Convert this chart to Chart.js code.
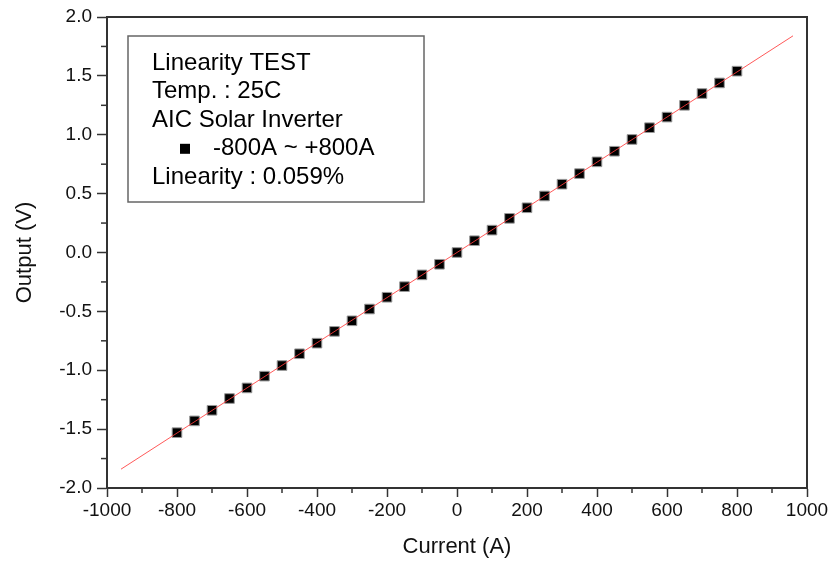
<!DOCTYPE html>
<html>
<head>
<meta charset="utf-8">
<script src="https://cdn.jsdelivr.net/npm/chart.js@4"></script>
<style>
  body { margin: 0; background: #fff; }
  #wrap { width: 835px; height: 565px; }
</style>
</head>
<body>
<div id="wrap"><canvas id="linChart"></canvas></div>
<script>
/* measured points: current (A) vs sensor output (V) */
const currentA = [-800, -750, -700, -650, -600, -550, -500, -450, -400, -350, -300, -250, -200, -150, -100, -50,
  0, 50, 100, 150, 200, 250, 300, 350, 400, 450, 500, 550, 600, 650, 700, 750, 800];
const outputV = [-1.53, -1.43, -1.34, -1.24, -1.15, -1.05, -0.96, -0.86, -0.77, -0.67, -0.58, -0.48, -0.38, -0.29, -0.19, -0.10,
  0.00, 0.10, 0.19, 0.29, 0.38, 0.48, 0.58, 0.67, 0.77, 0.86, 0.96, 1.06, 1.15, 1.25, 1.35, 1.44, 1.54];

/* linear fit line endpoints */
const fitX = [-960, 960];
const fitY = [-1.84, 1.84];

const legendHead = ['Linearity TEST', 'Temp. : 25C', 'AIC Solar Inverter'];
const legendSeries = '-800A ~ +800A';
const legendFoot = 'Linearity : 0.059%';

const FONT = '"Liberation Sans", Arial, sans-serif';

// box frame, minor ticks and the text box inside the plot
const framePlugin = {
  id: 'frame',
  afterDraw(chart) {
    const { ctx, chartArea: a, scales } = chart;
    ctx.save();
    ctx.strokeStyle = '#333';
    ctx.lineWidth = 2;
    ctx.beginPath();
    ctx.moveTo(a.left, a.top);
    ctx.lineTo(a.right, a.top);
    ctx.lineTo(a.right, a.bottom);
    ctx.stroke();

    // minor ticks halfway between majors
    ctx.lineWidth = 1.5;
    const xt = scales.x.ticks;
    for (let i = 0; i < xt.length - 1; i++) {
      const px = scales.x.getPixelForValue((xt[i].value + xt[i + 1].value) / 2);
      ctx.beginPath();
      ctx.moveTo(px, a.bottom);
      ctx.lineTo(px, a.bottom + 5);
      ctx.stroke();
    }
    const yt = scales.y.ticks;
    for (let i = 0; i < yt.length - 1; i++) {
      const py = scales.y.getPixelForValue((yt[i].value + yt[i + 1].value) / 2);
      ctx.beginPath();
      ctx.moveTo(a.left - 6, py);
      ctx.lineTo(a.left, py);
      ctx.stroke();
    }

    // text box
    const bx = a.left + 21, by = a.top + 19, bw = 296, bh = 166;
    ctx.strokeStyle = '#666';
    ctx.lineWidth = 1.5;
    ctx.fillStyle = '#fff';
    ctx.fillRect(bx, by, bw, bh);
    ctx.strokeRect(bx, by, bw, bh);

    ctx.fillStyle = '#000';
    ctx.font = '24px ' + FONT;
    ctx.textBaseline = 'middle';
    const tx = bx + 24;
    const lh = 28.6;
    let ty = by + 27;
    legendHead.forEach(t => { ctx.fillText(t, tx, ty); ty += lh; });
    ctx.fillRect(tx + 28, ty - 5, 10, 10);
    ctx.fillText(legendSeries, tx + 61, ty);
    ty += lh;
    ctx.fillText(legendFoot, tx, ty);
    ctx.restore();
  }
};

new Chart(document.getElementById('linChart'), {
  type: 'scatter',
  data: {
    datasets: [
      {
        label: 'fit',
        data: fitX.map((x, i) => ({ x, y: fitY[i] })),
        showLine: true,
        borderColor: 'rgba(255,60,60,0.85)',
        borderWidth: 1,
        pointRadius: 0
      },
      {
        label: 'measured',
        data: currentA.map((x, i) => ({ x, y: outputV[i] })),
        pointStyle: 'rect',
        pointRadius: 6.8,
        backgroundColor: '#000',
        borderColor: '#999',
        borderWidth: 1
      }
    ]
  },
  options: {
    responsive: true,
    maintainAspectRatio: false,
    animation: false,
    layout: { padding: { top: 17, right: 28, left: 0, bottom: 0 } },
    plugins: { legend: { display: false }, tooltip: { enabled: false } },
    scales: {
      x: {
        type: 'linear',
        min: -1000, max: 1000,
        afterFit(s) { s.height = 77; },
        ticks: { stepSize: 200, color: '#111', font: { family: FONT, size: 19 }, padding: 2, maxRotation: 0, callback: v => String(v) },
        grid: { drawOnChartArea: false, tickLength: 9, tickColor: '#333', tickWidth: 1.5 },
        border: { color: '#333', width: 2 },
        title: { display: true, text: 'Current (A)', color: '#111', font: { family: FONT, size: 22 }, padding: { top: 0, bottom: 5 } }
      },
      y: {
        min: -2, max: 2,
        afterFit(s) { s.width = 107; },
        ticks: { stepSize: 0.5, color: '#111', font: { family: FONT, size: 19 }, padding: 5, callback: v => v.toFixed(1) },
        grid: { drawOnChartArea: false, tickLength: 10, tickColor: '#333', tickWidth: 1.5 },
        border: { color: '#333', width: 2 },
        title: { display: true, text: 'Output (V)', color: '#111', font: { family: FONT, size: 22 }, padding: { top: 12, bottom: 0 } }
      }
    }
  },
  plugins: [framePlugin]
});
</script>
</body>
</html>
